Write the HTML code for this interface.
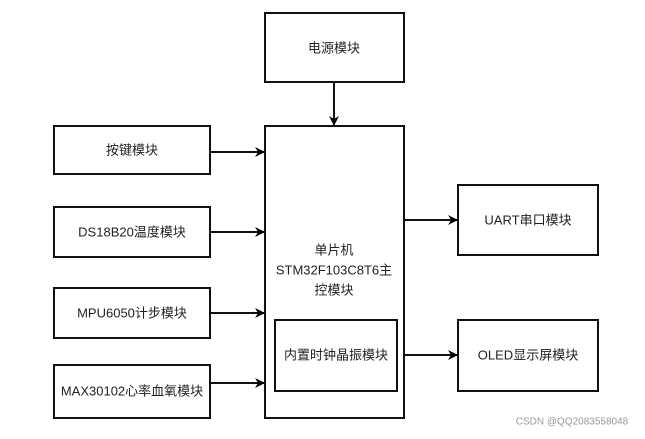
<!DOCTYPE html>
<html><head><meta charset="utf-8"><style>
body{margin:0;background:#fff;}
svg text{font-family:"Liberation Sans","Noto Sans CJK SC",sans-serif;font-size:13px;fill:#222;text-anchor:middle;dominant-baseline:central;}
</style></head><body>
<svg width="645" height="434" viewBox="0 0 645 434" xmlns="http://www.w3.org/2000/svg">
<defs><marker id="a" markerWidth="10" markerHeight="10" refX="9" refY="5" orient="auto" markerUnits="userSpaceOnUse"><path d="M0,0 L10,5 L0,10 L3,5 Z" fill="#000"/></marker></defs>
<g fill="none" stroke="#111" stroke-width="2">
<rect x="265" y="13" width="139" height="69"/>
<rect x="265" y="126" width="139" height="292"/>
<rect x="275" y="320" width="122" height="71"/>
<rect x="54" y="126" width="156" height="48"/>
<rect x="54" y="207" width="156" height="50"/>
<rect x="54" y="288" width="156" height="50"/>
<rect x="54" y="365" width="156" height="53"/>
<rect x="458" y="185" width="140" height="70"/>
<rect x="458" y="320" width="140" height="71"/>
<line x1="334" y1="82" x2="334" y2="125" marker-end="url(#a)"/>
<line x1="210" y1="152" x2="264" y2="152" marker-end="url(#a)"/>
<line x1="210" y1="232" x2="264" y2="232" marker-end="url(#a)"/>
<line x1="210" y1="313" x2="264" y2="313" marker-end="url(#a)"/>
<line x1="210" y1="383" x2="264" y2="383" marker-end="url(#a)"/>
<line x1="404" y1="220" x2="457" y2="220" marker-end="url(#a)"/>
<line x1="404" y1="355" x2="457" y2="355" marker-end="url(#a)"/>
</g>
<text x="334" y="48">电源模块</text>
<text x="132" y="150">按键模块</text>
<text x="132" y="232">DS18B20温度模块</text>
<text x="132" y="313">MPU6050计步模块</text>
<text x="132" y="391">MAX30102心率血氧模块</text>
<text x="334" y="250">单片机</text>
<text x="334" y="270">STM32F103C8T6主</text>
<text x="334" y="290">控模块</text>
<text x="336" y="355">内置时钟晶振模块</text>
<text x="528" y="220">UART串口模块</text>
<text x="528" y="355">OLED显示屏模块</text>
<text x="572" y="422" style="font-size:10px;fill:#999">CSDN @QQ2083558048</text>
</svg>
</body></html>
